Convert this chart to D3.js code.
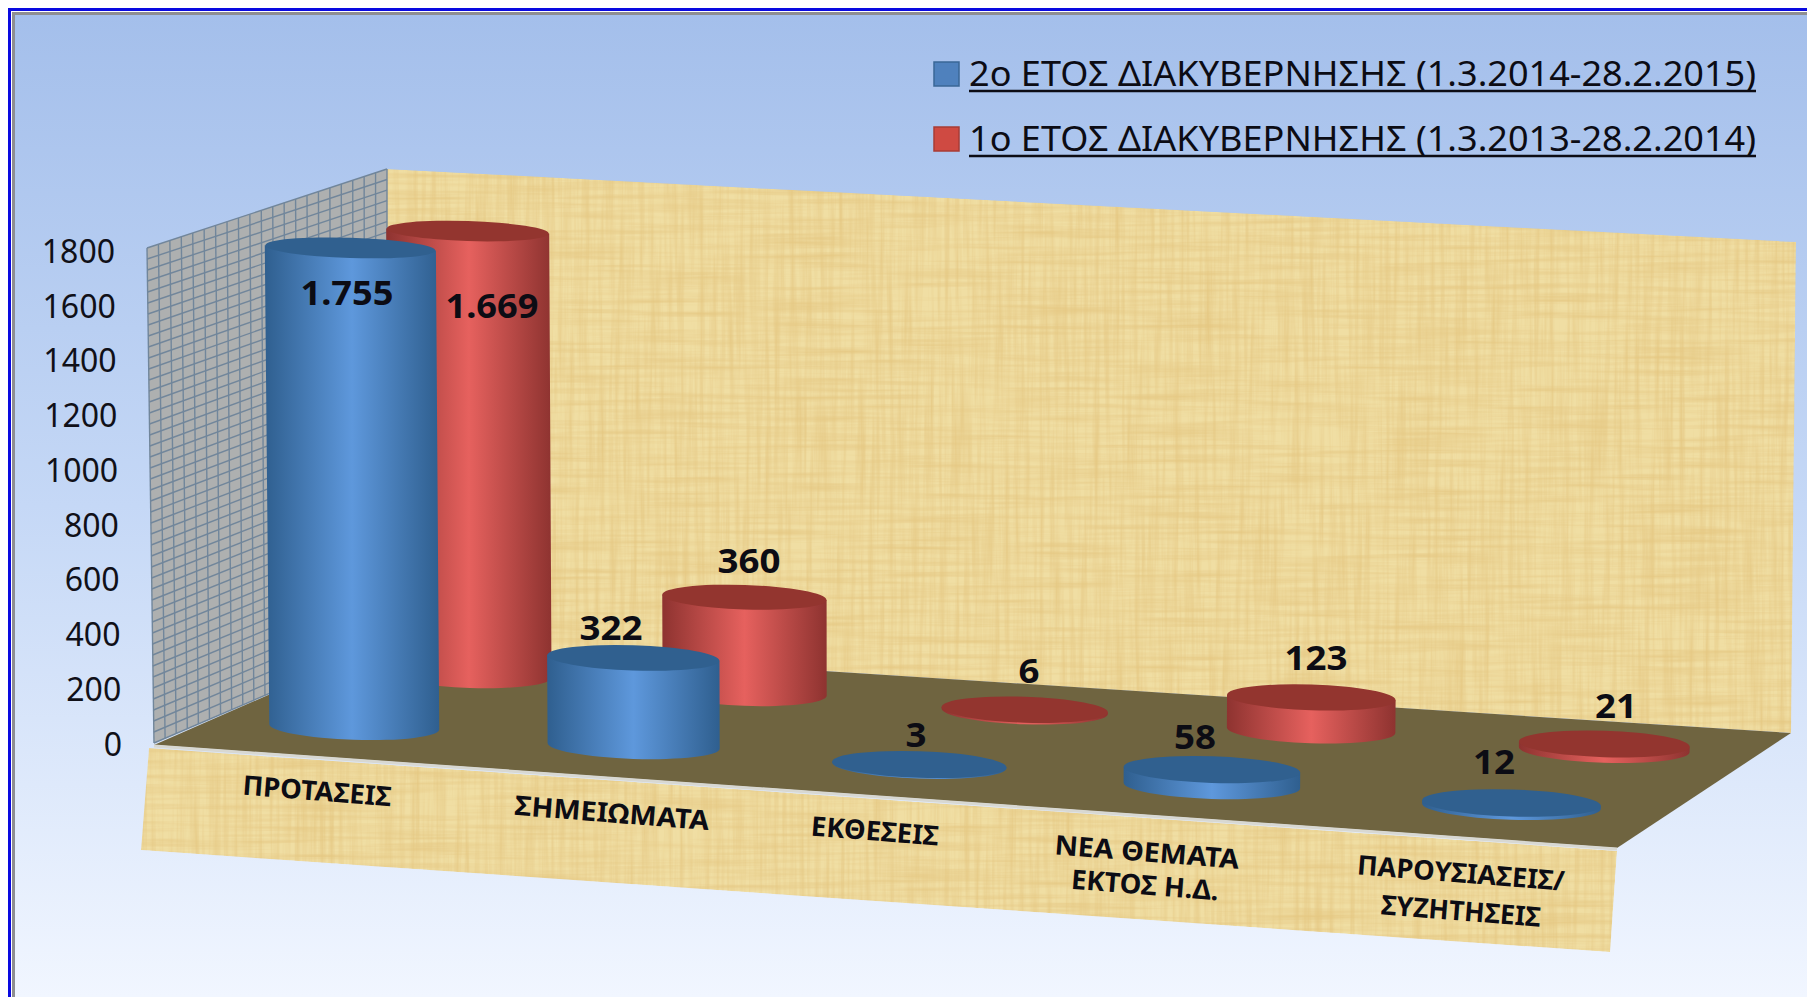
<!DOCTYPE html>
<html>
<head>
<meta charset="utf-8">
<script src="https://cdnjs.cloudflare.com/ajax/libs/d3/7.8.5/d3.min.js"></script>
<style>
    html, body { margin: 0; padding: 0; background: #fff; overflow: hidden; }
    text { font-family: 'Noto Sans', 'Open Sans', sans-serif; fill: #0c0c14; }
</style>
</head>
<body>
<svg id="chart" width="1807" height="997"></svg>
<script>
// chart data
var categories = ['ΠΡΟΤΑΣΕΙΣ', 'ΣΗΜΕΙΩΜΑΤΑ', 'ΕΚΘΕΣΕΙΣ', 'ΝΕΑ ΘΕΜΑΤΑ|ΕΚΤΟΣ Η.Δ.', 'ΠΑΡΟΥΣΙΑΣΕΙΣ/|ΣΥΖΗΤΗΣΕΙΣ'];
var year2Values = [1755, 322, 3, 58, 12];
var year1Values = [1669, 360, 6, 123, 21];
var seriesNames = ['2ο ΕΤΟΣ ΔΙΑΚΥΒΕΡΝΗΣΗΣ (1.3.2014-28.2.2015)', '1ο ΕΤΟΣ ΔΙΑΚΥΒΕΡΝΗΣΗΣ (1.3.2013-28.2.2014)'];
var yTicks = [0, 200, 400, 600, 800, 1000, 1200, 1400, 1600, 1800];

// scene corners, floor is front-left, front-right, back-right, back-left
var floor = [[154, 745], [1617, 848], [1791, 733], [387, 643]];
var backWall = [[387, 169], [1796, 242], [1791, 733], [387, 643]];
var sideWall = [[147, 248], [387, 169], [387, 643], [154, 743]];
var frontBand = [[149, 748], [1617, 851], [1610, 952], [141, 850]];

// where the text sits
var year2LabelAt = [[347, 292], [611, 627], [916, 734], [1195, 736], [1494, 761]];
var year1LabelAt = [[492, 305], [749, 560], [1029, 670], [1316, 657], [1616, 705]];
var categoryLabelAt = [[[317, 790, 149]], [[612, 812, 195]], [[875, 830, 128]],
    [[1147, 851, 185], [1145, 884, 148]], [[1461, 872, 208], [1461, 910, 160]]];

var svg = d3.select('#chart');
var defs = svg.append('defs');

// floor homography, unit square to the floor corners
function makeProjection(q) {
    var dx1 = q[1][0] - q[2][0], dx2 = q[3][0] - q[2][0], sx = q[0][0] - q[1][0] + q[2][0] - q[3][0];
    var dy1 = q[1][1] - q[2][1], dy2 = q[3][1] - q[2][1], sy = q[0][1] - q[1][1] + q[2][1] - q[3][1];
    var den = dx1 * dy2 - dx2 * dy1;
    var g = (sx * dy2 - dx2 * sy) / den, h = (dx1 * sy - sx * dy1) / den;
    var a = q[1][0] - q[0][0] + g * q[1][0], b = q[3][0] - q[0][0] + h * q[3][0];
    var d = q[1][1] - q[0][1] + g * q[1][1], e = q[3][1] - q[0][1] + h * q[3][1];
    return function(u, v) {
        var w = g * u + h * v + 1;
        return [(a * u + b * v + q[0][0]) / w, (d * u + e * v + q[0][1]) / w];
    };
}
var project = makeProjection(floor);

// scales
var y = d3.scaleLinear().domain([0, 1800]).range([743, 250]);
var u = d3.scaleBand().domain(categories).range([0, 1]);
var v = d3.scalePoint().domain(['year2', 'year1']).range([0.26, 0.76]);
var ryByScreenY = d3.scaleLinear().domain([230, 800]).range([10, 13.5]);
var rxByDepth = d3.scaleLinear().domain([0.26, 0.76]).range([85, 81]);
var nudgeByDepth = d3.scaleLinear().domain([0.26, 0.76]).range([0, 2.5]);

function lift(p, value, depth) {
    var h = (y(0) - y(value)) * (1.009 - depth * 0.049);
    return [p[0] + (p[0] - 900) * h * 0.000015, p[1] - h];
}

// gradients and texture
var bg = defs.append('linearGradient').attr('id', 'bg').attr('x1', 0).attr('x2', 0).attr('y1', 0).attr('y2', 1);
bg.append('stop').attr('offset', '0%').attr('stop-color', '#a4bfeb');
bg.append('stop').attr('offset', '50%').attr('stop-color', '#c5d8f6');
bg.append('stop').attr('offset', '100%').attr('stop-color', '#f1f6ff');

function sideGradient(id, edge, mid) {
    var g = defs.append('linearGradient').attr('id', id);
    g.append('stop').attr('offset', '0%').attr('stop-color', edge);
    g.append('stop').attr('offset', '50%').attr('stop-color', mid);
    g.append('stop').attr('offset', '100%').attr('stop-color', edge);
}
sideGradient('blueSide', '#2f5f8f', '#5e98dc');
sideGradient('redSide', '#8e3330', '#e6615e');

var papyrus = defs.append('filter').attr('id', 'papyrus')
    .attr('x', 0).attr('y', 0).attr('width', 1).attr('height', 1);
papyrus.append('feTurbulence').attr('type', 'fractalNoise').attr('baseFrequency', '0.008 0.2')
    .attr('numOctaves', 3).attr('seed', 4).attr('result', 'across');
papyrus.append('feColorMatrix').attr('in', 'across').attr('type', 'matrix')
    .attr('values', '0 0 0 0 0.78  0 0 0 0 0.57  0 0 0 0 0.22  1.5 0 0 0 -0.56').attr('result', 'acrossTint');
papyrus.append('feTurbulence').attr('type', 'fractalNoise').attr('baseFrequency', '0.2 0.008')
    .attr('numOctaves', 3).attr('seed', 9).attr('result', 'down');
papyrus.append('feColorMatrix').attr('in', 'down').attr('type', 'matrix')
    .attr('values', '0 0 0 0 0.78  0 0 0 0 0.57  0 0 0 0 0.22  1.5 0 0 0 -0.56').attr('result', 'downTint');
var merge = papyrus.append('feMerge').attr('result', 'all');
merge.append('feMergeNode').attr('in', 'SourceGraphic');
merge.append('feMergeNode').attr('in', 'acrossTint');
merge.append('feMergeNode').attr('in', 'downTint');
papyrus.append('feGaussianBlur').attr('in', 'all').attr('stdDeviation', 0.7).attr('result', 'soft');
papyrus.append('feComposite').attr('in', 'soft').attr('in2', 'SourceAlpha').attr('operator', 'in');

// frame and background
svg.append('rect').attr('x', 15).attr('y', 15).attr('width', 1792).attr('height', 982).attr('fill', 'url(#bg)');
svg.append('path').attr('d', 'M13.5,997V13.5H1807').attr('fill', 'none').attr('stroke', '#8e8e92').attr('stroke-width', 3);
svg.append('path').attr('d', 'M9.5,997V9.5H1807').attr('fill', 'none').attr('stroke', '#0a0ae0').attr('stroke-width', 3);

function poly(q) {
    return 'M' + q.map(function(p) { return p.join(','); }).join('L') + 'Z';
}

// walls
svg.append('path').attr('d', poly(backWall)).attr('fill', '#f0dea3').attr('filter', 'url(#papyrus)');
svg.append('path').attr('d', poly(frontBand)).attr('fill', '#f0dea3').attr('filter', 'url(#papyrus)');
svg.append('path').attr('d', poly(sideWall)).attr('fill', '#aeb0b0');

var wallGrid = svg.append('g').attr('stroke', '#71869b').attr('stroke-width', 1.4);
d3.range(0, 22).forEach(function(i) {
    var t = i / 21;
    wallGrid.append('line')
        .attr('x1', sideWall[0][0] + (sideWall[1][0] - sideWall[0][0]) * t)
        .attr('y1', sideWall[0][1] + (sideWall[1][1] - sideWall[0][1]) * t)
        .attr('x2', sideWall[3][0] + (sideWall[2][0] - sideWall[3][0]) * t)
        .attr('y2', sideWall[3][1] + (sideWall[2][1] - sideWall[3][1]) * t);
});
d3.range(0, 46).forEach(function(i) {
    var t = i / 45;
    wallGrid.append('line')
        .attr('x1', sideWall[0][0] + (sideWall[3][0] - sideWall[0][0]) * t)
        .attr('y1', sideWall[0][1] + (sideWall[3][1] - sideWall[0][1]) * t)
        .attr('x2', sideWall[1][0] + (sideWall[2][0] - sideWall[1][0]) * t)
        .attr('y2', sideWall[1][1] + (sideWall[2][1] - sideWall[1][1]) * t);
});

// floor and its pale front edge
svg.append('path').attr('d', poly(floor)).attr('fill', '#6f6440');
svg.append('line')
    .attr('x1', floor[0][0]).attr('y1', floor[0][1] + 1)
    .attr('x2', floor[1][0]).attr('y2', floor[1][1] + 1)
    .attr('stroke', '#d8d8d2').attr('stroke-width', 3);

// y axis
var yAxis = svg.append('g')
    .attr('transform', 'translate(122,2)')
    .call(d3.axisLeft(y).tickValues(yTicks).tickSize(0).tickPadding(0).tickFormat(d3.format('d')));
yAxis.select('.domain').remove();
yAxis.selectAll('.tick text')
    .attr('font-size', 32)
    .attr('dx', function(d) { return -d / 1800 * 7; })
    .style('fill', '#101018');

// cylinders, back row first
function drawRow(key, values, sideFill, topFill) {
    var depth = v(key);
    var row = svg.append('g').attr('class', 'row-' + key);
    categories.forEach(function(c, i) {
        var uMid = u(c) + u.bandwidth() / 2;
        var base = project(uMid, depth);
        var along = project(uMid + 0.05, depth);
        // the middle bands sit a little to the right of the plain projection
        base[0] += 24 * uMid * (1 - uMid) + nudgeByDepth(depth);
        // the discs tilt less than the floor edge does
        var rad = Math.atan2(along[1] - base[1], along[0] - base[0]) * 0.45;
        var rot = rad * 180 / Math.PI;
        var rx = rxByDepth(depth) + 5.5 * (uMid - 0.1);
        var left = [base[0] - rx * Math.cos(rad), base[1] - rx * Math.sin(rad)];
        var right = [base[0] + rx * Math.cos(rad), base[1] + rx * Math.sin(rad)];
        var leftTop = lift(left, values[i], depth);
        var rightTop = lift(right, values[i], depth);
        var top = [(leftTop[0] + rightTop[0]) / 2, (leftTop[1] + rightTop[1]) / 2];
        var arcBase = 'A' + rx + ',' + ryByScreenY(base[1]) + ' ' + rot + ' 0 1 ';

        row.append('path')
            .attr('d', 'M' + left + 'L' + leftTop + 'L' + rightTop + 'L' + right + arcBase + left + 'Z')
            .attr('fill', 'url(#' + sideFill + ')');
        row.append('ellipse')
            .attr('cx', top[0])
            .attr('cy', top[1])
            .attr('rx', rx)
            .attr('ry', ryByScreenY(top[1]))
            .attr('transform', 'rotate(' + rot + ',' + top[0] + ',' + top[1] + ')')
            .attr('fill', topFill);
    });
}
drawRow('year1', year1Values, 'redSide', '#93352f');
drawRow('year2', year2Values, 'blueSide', '#30608f');

// value labels use a dot for thousands
var greek = d3.formatLocale({ decimal: ',', thousands: '.', grouping: [3], currency: ['', ''] });
var fmt = greek.format(',');

function labelWidth(d) {
    var s = fmt(d);
    return s.replace('.', '').length * 21 + (s.indexOf('.') >= 0 ? 9 : 0);
}

function drawValueLabels(values, positions) {
    svg.append('g').selectAll('text')
        .data(values)
        .enter()
        .append('text')
        .attr('x', function(d, i) { return positions[i][0]; })
        .attr('y', function(d, i) { return positions[i][1]; })
        .attr('text-anchor', 'middle')
        .attr('dominant-baseline', 'central')
        .attr('font-size', 34)
        .attr('font-weight', 700)
        .attr('textLength', labelWidth)
        .attr('lengthAdjust', 'spacingAndGlyphs')
        .text(fmt);
}
drawValueLabels(year2Values, year2LabelAt);
drawValueLabels(year1Values, year1LabelAt);

// category labels lie along the front band
categories.forEach(function(c, i) {
    c.split('|').forEach(function(line, j) {
        var at = categoryLabelAt[i][j];
        svg.append('text')
            .attr('transform', 'translate(' + at[0] + ',' + at[1] + ') rotate(4.5)')
            .attr('text-anchor', 'middle')
            .attr('dominant-baseline', 'central')
            .attr('font-size', 27)
            .attr('font-weight', 700)
            .attr('textLength', at[2])
            .attr('lengthAdjust', 'spacingAndGlyphs')
            .text(line);
    });
});

// legend
var legendFills = ['#4f81bd', '#cf4a42'];
var legendStrokes = ['#3a6796', '#a83c36'];
var legendRows = d3.scalePoint().domain(seriesNames).range([86, 151]);
var legend = svg.append('g').selectAll('g')
    .data(seriesNames)
    .enter()
    .append('g')
    .attr('transform', function(d) { return 'translate(0,' + legendRows(d) + ')'; });
legend.append('rect')
    .attr('x', 934).attr('y', -24).attr('width', 25).attr('height', 24)
    .attr('fill', function(d, i) { return legendFills[i]; })
    .attr('stroke', function(d, i) { return legendStrokes[i]; })
    .attr('stroke-width', 1.5);
legend.append('text')
    .attr('x', 969)
    .attr('font-size', 34)
    .attr('textLength', 787)
    .attr('lengthAdjust', 'spacingAndGlyphs')
    .text(function(d) { return d; });
legend.append('line')
    .attr('x1', 969).attr('x2', 1756).attr('y1', 5).attr('y2', 5)
    .attr('stroke', '#0c0c14').attr('stroke-width', 2.5);
</script>
</body>
</html>
